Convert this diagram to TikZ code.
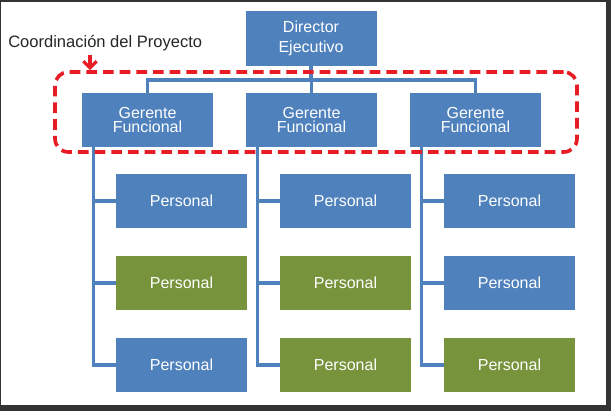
\documentclass[tikz,border=0pt]{standalone}
\usepackage{fontspec}
\setmainfont{Liberation Sans}
\usetikzlibrary{arrows.meta}
\definecolor{obl}{HTML}{4F81BD}
\definecolor{ogr}{HTML}{77933C}
\definecolor{ored}{RGB}{232,28,36}
\definecolor{otx}{HTML}{262626}
\tikzset{
  box/.style={minimum width=98.25pt, minimum height=40.5pt, inner sep=0pt, align=center, text=white, font=\fontsize{12}{11.2}\selectfont},
  bluebox/.style={box, fill=obl},
  greenbox/.style={box, fill=ogr},
  conn/.style={draw=obl, line width=2.4pt},
  coordbox/.style={draw=ored, line width=2.7pt, dash pattern=on 8pt off 4.5pt, rounded corners=10pt, minimum width=391.5pt, minimum height=60pt, inner sep=0pt},
}
\begin{document}
\begin{tikzpicture}[x=0.75pt,y=-0.75pt]
\fill[black!80] (0,0) rectangle (611,411);
\fill[white] (1,2) rectangle (606,405);
\useasboundingbox (0,0) rectangle (611,411);
% top
\node[bluebox, font=\fontsize{12}{15.5}\selectfont, minimum height=41.25pt] (dir) at (311,38.5) {Director\\Ejecutivo};
\node[bluebox] (g1) at (147.5,120) {Gerente\\Funcional};
\node[bluebox] (g2) at (311.5,120) {Gerente\\Funcional};
\node[bluebox] (g3) at (475.5,120) {Gerente\\Funcional};
% personal
\node[bluebox]  (p11) at (181.5,201) {Personal};
\node[greenbox] (p12) at (181.5,283) {Personal};
\node[bluebox]  (p13) at (181.5,365) {Personal};
\node[bluebox]  (p21) at (345.5,201) {Personal};
\node[greenbox] (p22) at (345.5,283) {Personal};
\node[greenbox] (p23) at (345.5,365) {Personal};
\node[bluebox]  (p31) at (509.5,201) {Personal};
\node[bluebox]  (p32) at (509.5,283) {Personal};
\node[greenbox] (p33) at (509.5,365) {Personal};
% bus
\coordinate (bus) at (311,80);
\draw[conn] (dir.south) -- (bus);
\draw[conn] (g1.north) |- (bus) -| (g3.north);
\draw[conn] (g2.north) -- (g2.north |- bus);
% columns
\foreach \g/\c in {g1/1,g2/2,g3/3}{
  \draw[conn] ([xshift=9pt]\g.south west) |- (p\c3.west);
  \draw[conn] ([xshift=9pt]\g.south west |- p\c1.west) -- (p\c1.west);
  \draw[conn] ([xshift=9pt]\g.south west |- p\c2.west) -- (p\c2.west);
}
% coordination
\node[coordbox] (coord) at (316,112) {};
\node[anchor=west, inner sep=0pt, text=otx, font=\fontsize{12.4}{14}\selectfont] (lbl) at (8,43) {Coordinación del Proyecto};
\coordinate (arrs) at (90,55);
\draw[ored, line width=2.4pt, -{Straight Barb[length=5pt,width=10pt]}] (arrs) -- (arrs |- coord.north);
\end{tikzpicture}
\end{document}
